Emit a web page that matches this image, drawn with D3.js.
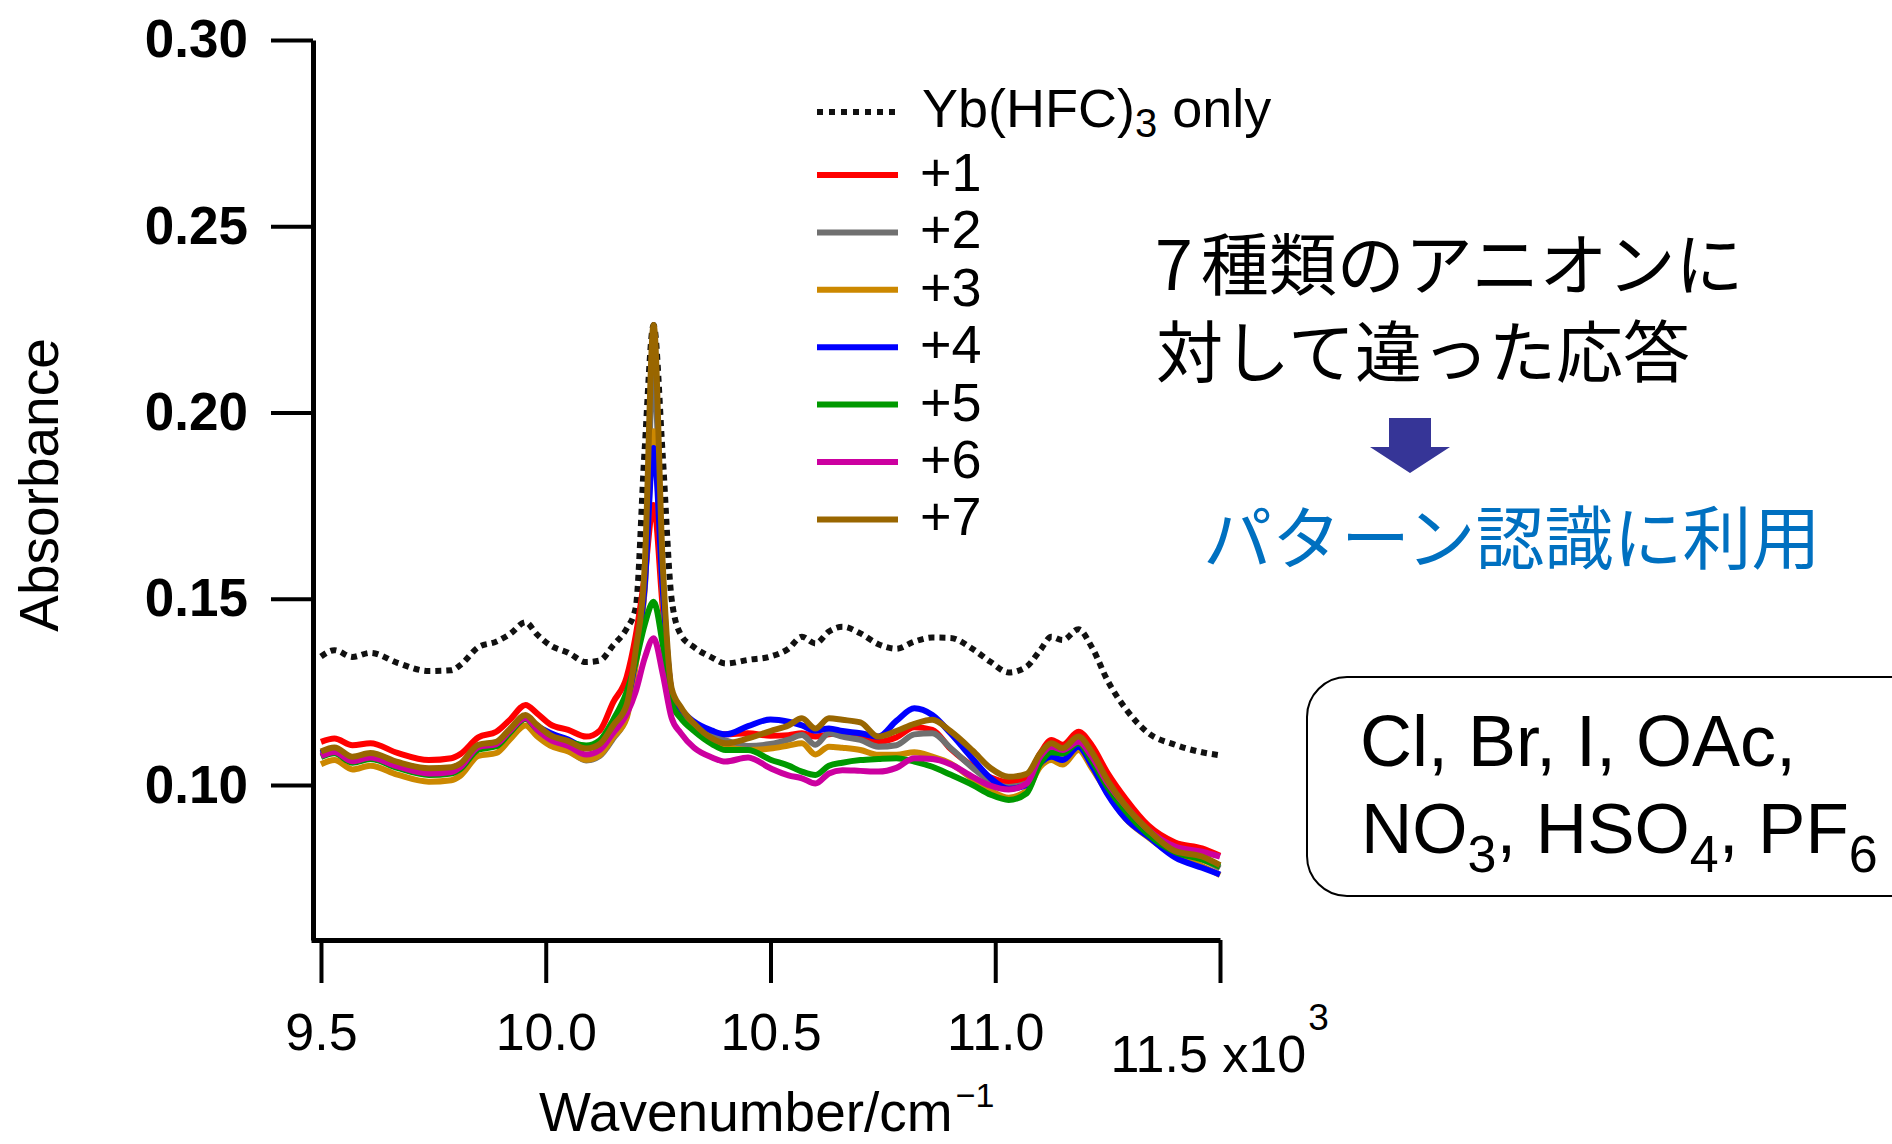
<!DOCTYPE html>
<html>
<head>
<meta charset="utf-8">
<script src="https://cdn.jsdelivr.net/npm/d3@7"></script>
<style>
  body { margin: 0; background: #fff; }
  svg { display: block; background: #fff; }
  text { font-family: "Liberation Sans", Arial, Helvetica, sans-serif; fill: #000; }
  text.jp { font-family: "Noto Sans CJK JP", sans-serif; }
</style>
</head>
<body>
<script>
// wavenumber in units of 10^3 cm^-1
const wavenumber = [
  9.50, 9.53, 9.57, 9.61, 9.67, 9.74, 9.79, 9.81, 9.85, 9.89,
  9.92, 9.955, 9.98, 10.01, 10.05, 10.09, 10.12, 10.15, 10.18, 10.20,
  10.22, 10.24, 10.26, 10.28, 10.30, 10.33, 10.37, 10.40, 10.45, 10.50,
  10.54, 10.57, 10.60, 10.63, 10.66, 10.70, 10.74, 10.78, 10.82, 10.86,
  10.90, 10.95, 10.99, 11.03, 11.07, 11.10, 11.125, 11.15, 11.185, 11.215,
  11.25, 11.29, 11.34, 11.40, 11.46, 11.50
];

const ybOnly = [
  .1345, .1362, .1344, .1355, .1328, .1306, .1308, .1322, .1370, .1385,
  .1405, .1437, .1405, .1375, .1355, .1330, .1334, .1375, .1420, .1475,
  .1900, .2235, .1890, .1500, .1405, .1370, .1342, .1326, .1336, .1345,
  .1366, .1398, .1380, .1412, .1425, .1407, .1378, .1366, .1385, .1396,
  .1395, .1365, .1330, .1302, .1318, .1362, .1398, .1389, .1418, .1370,
  .1280, .1205, .1140, .1108, .1088, .1080
];

const plus1 = [
  .1116, .1125, .1107, .1112, .1086, .1067, .1072, .1083, .1128, .1143,
  .1175, .1215, .1193, .1163, .1148, .1130, .1146, .1222, .1290, .1400,
  .1560, .1752, .1480, .1250, .1190, .1165, .1139, .1136, .1139, .1132,
  .1134, .1139, .1130, .1136, .1139, .1132, .1116, .1128, .1155, .1148,
  .1098, .1050, .1020, .1008, .1020, .1085, .1121, .1108, .1143, .1106,
  .1032, .0963, .0892, .0846, .0830, .0810
];

const plus2 = [
  .1082, .1093, .1068, .1078, .1054, .1035, .1038, .1050, .1098, .1108,
  .1140, .1178, .1148, .1115, .1095, .1066, .1078, .1125, .1185, .1330,
  .1540, .2120, .1560, .1240, .1200, .1160, .1132, .1120, .1105, .1110,
  .1122, .1134, .1108, .1139, .1130, .1121, .1103, .1107, .1136, .1139,
  .1100, .1046, .1010, .0995, .1005, .1058, .1085, .1076, .1112, .1066,
  .0990, .0928, .0868, .0820, .0801, .0776
];

const plus3 = [
  .1056, .1067, .1042, .1052, .1028, .1009, .1013, .1025, .1078, .1086,
  .1122, .1160, .1132, .1106, .1090, .1068, .1080, .1128, .1180, .1320,
  .1520, .1950, .1520, .1230, .1195, .1160, .1120, .1104, .1094, .1098,
  .1106, .1112, .1082, .1103, .1100, .1094, .1081, .1081, .1088, .1076,
  .1058, .1016, .0985, .0966, .0985, .1049, .1067, .1055, .1094, .1045,
  .0978, .0910, .0860, .0810, .0783, .0758
];

const plus4 = [
  .1086, .1097, .1072, .1082, .1058, .1040, .1044, .1056, .1105, .1114,
  .1148, .1184, .1160, .1140, .1122, .1100, .1108, .1160, .1220, .1340,
  .1530, .1905, .1530, .1250, .1205, .1170, .1146, .1136, .1158, .1176,
  .1170, .1160, .1146, .1152, .1145, .1139, .1130, .1172, .1206, .1188,
  .1140, .1070, .1018, .0990, .1000, .1058, .1076, .1067, .1103, .1052,
  .0975, .0910, .0862, .0806, .0778, .0760
];

const plus5 = [
  .1075, .1085, .1060, .1070, .1046, .1027, .1031, .1043, .1095, .1104,
  .1140, .1178, .1150, .1125, .1115, .1106, .1120, .1175, .1250, .1330,
  .1430, .1492, .1380, .1220, .1180, .1145, .1110, .1094, .1094, .1068,
  .1052, .1036, .1027, .1052, .1060, .1067, .1070, .1072, .1063, .1049,
  .1028, .1000, .0974, .0960, .0978, .1058, .1088, .1085, .1112, .1064,
  .0994, .0930, .0868, .0820, .0800, .0781
];

const plus6 = [
  .1078, .1089, .1064, .1074, .1050, .1031, .1035, .1048, .1102, .1110,
  .1145, .1180, .1150, .1122, .1105, .1082, .1094, .1140, .1190, .1250,
  .1340, .1394, .1300, .1180, .1140, .1100, .1074, .1063, .1074, .1045,
  .1026, .1018, .1004, .1031, .1040, .1038, .1036, .1046, .1072, .1070,
  .1056, .1022, .0998, .0988, .1004, .1076, .1103, .1094, .1116, .1076,
  .1005, .0944, .0880, .0835, .0821, .0808
];

const plus7 = [
  .1090, .1101, .1076, .1086, .1062, .1045, .1048, .1058, .1108, .1116,
  .1150, .1188, .1162, .1134, .1118, .1098, .1110, .1160, .1215, .1360,
  .1580, .2235, .1600, .1260, .1210, .1165, .1125, .1112, .1125, .1145,
  .1160, .1179, .1152, .1179, .1175, .1168, .1130, .1145, .1164, .1175,
  .1145, .1092, .1045, .1022, .1030, .1085, .1112, .1099, .1130, .1088,
  .1012, .0944, .0880, .0823, .0808, .0785
];

const seriesLabels = ['+1', '+2', '+3', '+4', '+5', '+6', '+7'];
const seriesColors = ['#ff0000', '#707070', '#cc8800', '#0000ff', '#009900', '#cc00a0', '#996600'];
const seriesValues = [plus1, plus2, plus3, plus4, plus5, plus6, plus7];

const xTicks = [9.5, 10.0, 10.5, 11.0, 11.5];
const yTicks = [0.10, 0.15, 0.20, 0.25, 0.30];

const width = 1892;
const height = 1144;

const x = d3.scaleLinear().domain([9.4778, 11.5]).range([311, 1220]);
const y = d3.scaleLinear().domain([0.0584, 0.30]).range([940, 40]);

const svg = d3.select('body').append('svg')
  .attr('width', width)
  .attr('height', height);

// axes
const gx = svg.append('g')
  .attr('transform', 'translate(0,940)')
  .call(d3.axisBottom(x)
    .tickValues(xTicks)
    .tickSize(43)
    .tickSizeOuter(0)
    .tickPadding(30)
    .tickFormat(d3.format('.1f')));
gx.select('.domain').attr('stroke-width', 5);
gx.selectAll('.tick line').attr('stroke-width', 4);
gx.selectAll('.tick text').attr('font-size', 52);

// last tick carries the x10^3 multiplier, set lower
const last = gx.selectAll('.tick text').filter(d => d === 11.5);
last.text(null)
  .attr('text-anchor', 'start')
  .attr('x', -110)
  .attr('y', 132)
  .attr('dy', null);
last.append('tspan').text('11.5 x10');
last.append('tspan').attr('font-size', 37).attr('dx', 2).attr('dy', -42).text('3');

const gy = svg.append('g')
  .attr('transform', 'translate(313,0)')
  .call(d3.axisLeft(y)
    .tickValues(yTicks)
    .tickSize(42)
    .tickSizeOuter(0)
    .tickPadding(23)
    .tickFormat(d3.format('.2f')));
gy.select('.domain').attr('stroke-width', 5);
gy.selectAll('.tick line').attr('stroke-width', 4);
gy.selectAll('.tick text').attr('font-size', 53).attr('font-weight', 'bold');

// axis titles
svg.append('text')
  .attr('transform', 'translate(58,485) rotate(-90)')
  .attr('text-anchor', 'middle')
  .attr('font-size', 55)
  .text('Absorbance');

const xt = svg.append('text')
  .attr('x', 539)
  .attr('y', 1131)
  .attr('font-size', 55);
xt.append('tspan').text('Wavenumber/cm');
xt.append('tspan').attr('font-size', 34).attr('dx', 3).attr('dy', -24).text('\u22121');

// spectra
const line = d3.line()
  .x((d, i) => x(wavenumber[i]))
  .y(d => y(d))
  .curve(d3.curveMonotoneX);

svg.append('path')
  .datum(ybOnly)
  .attr('fill', 'none')
  .attr('stroke', '#111')
  .attr('stroke-width', 6)
  .attr('stroke-dasharray', '6,5')
  .attr('d', line);

svg.append('g')
  .selectAll('path')
  .data(seriesValues)
  .join('path')
  .attr('fill', 'none')
  .attr('stroke', (d, i) => seriesColors[i])
  .attr('stroke-width', 6)
  .attr('stroke-linejoin', 'round')
  .attr('d', line);

// legend
const legend = svg.append('g');
legend.append('line')
  .attr('x1', 817).attr('x2', 898)
  .attr('y1', 112).attr('y2', 112)
  .attr('stroke', '#111')
  .attr('stroke-width', 6)
  .attr('stroke-dasharray', '6,6');
const lt = legend.append('text')
  .attr('x', 922)
  .attr('y', 127)
  .attr('font-size', 54);
lt.append('tspan').text('Yb(HFC)');
lt.append('tspan').attr('font-size', 40).attr('dy', 10).text('3');
lt.append('tspan').attr('dy', -10).text(' only');

const rows = legend.selectAll('g.row')
  .data(seriesLabels)
  .join('g')
  .attr('class', 'row')
  .attr('transform', (d, i) => `translate(0,${175 + i * 57.4})`);
rows.append('line')
  .attr('x1', 817).attr('x2', 898)
  .attr('stroke', (d, i) => seriesColors[i])
  .attr('stroke-width', 6);
rows.append('text')
  .attr('x', 920)
  .attr('y', 16)
  .attr('font-size', 54)
  .text(d => d);

// annotations
const jp1 = svg.append('text')
  .attr('class', 'jp')
  .attr('x', 1155)
  .attr('y', 290)
  .attr('font-size', 68);
jp1.append('tspan').text('7');
jp1.append('tspan').attr('dx', 8).text('種類のアニオンに');

svg.append('text')
  .attr('class', 'jp')
  .attr('x', 1156)
  .attr('y', 377)
  .attr('font-size', 67)
  .text('対して違った応答');

svg.append('polygon')
  .attr('points', [[1389, 418], [1431, 418], [1431, 447], [1450, 447], [1410, 473], [1370, 447], [1389, 447]].join(' '))
  .attr('fill', '#363597');

svg.append('text')
  .attr('class', 'jp')
  .attr('x', 1203)
  .attr('y', 564)
  .attr('font-size', 69)
  .style('fill', '#0070c0')
  .text('パターン認識に利用');

svg.append('rect')
  .attr('x', 1307)
  .attr('y', 677)
  .attr('width', 640)
  .attr('height', 219)
  .attr('rx', 40)
  .attr('fill', 'none')
  .attr('stroke', '#000')
  .attr('stroke-width', 2);

svg.append('text')
  .attr('x', 1360)
  .attr('y', 766)
  .attr('font-size', 72)
  .text('Cl, Br, I, OAc,');

const anions = svg.append('text')
  .attr('x', 1361)
  .attr('y', 853)
  .attr('font-size', 71);
[['NO', '3'], [', HSO', '4'], [', PF', '6']].forEach(([main, sub], i) => {
  anions.append('tspan').attr('dy', i ? -19 : 0).text(main);
  anions.append('tspan').attr('font-size', 52).attr('dy', 19).text(sub);
});
</script>
</body>
</html>
